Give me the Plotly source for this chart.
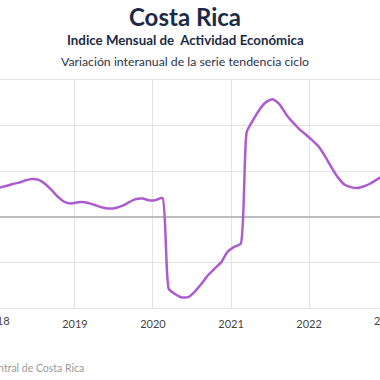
import plotly.graph_objects as go
import pandas as pd

# ---- data (monthly, plotted at mid-month) ----
months = [f"{y}-{m:02d}-15" for y in range(2018, 2023) for m in range(1, 13)]
values = [
    # 2018
    3.2, 3.4, 3.6, 3.75, 4.0, 4.15, 4.05, 3.6, 2.9, 2.15, 1.6, 1.45,
    # 2019
    1.6, 1.6, 1.45, 1.2, 1.0, 0.9, 1.0, 1.25, 1.65, 1.95, 2.0, 1.8,
    # 2020
    1.85, 2.05, -7.9, -8.5, -8.85, -8.8, -8.2, -7.35, -6.4, -5.7, -5.0, -3.85,
    # 2021
    -3.3, -2.95, 9.3, 10.65, 11.8, 12.6, 12.9, 12.35, 11.25, 10.4, 9.65, 9.05,
    # 2022
    8.4, 7.7, 6.7, 5.45, 4.35, 3.55, 3.25, 3.15, 3.35, 3.65, 4.1, 4.5,
]
year_ticks = ["2018-01-01", "2019-01-01", "2020-01-01", "2021-01-01", "2022-01-01", "2023-01-01"]
year_labels = ["2018", "2019", "2020", "2021", "2022", "2023"]
y_ticks = [-10, -5, 0, 5, 10, 15]

title = "Costa Rica"
subtitle = "Indice Mensual de  Actividad Económica"
subsub = "Variación interanual de la serie tendencia ciclo"
source = "Fuente: Banco Central de Costa Rica"

x_range = ["2018-01-15", "2022-11-29"]
y_range = [-10, 15]

W, H = 380, 380
M = dict(l=0, r=0, t=80, b=72)
FONT = "Lato, 'Open Sans', sans-serif"
NAVY = "#1c2b45"

fig = go.Figure()
fig.add_trace(go.Scatter(
    x=months, y=values, mode="lines",
    line=dict(color="#ad5ccf", width=2.5, shape="spline", smoothing=0.5),
    hoverinfo="x+y", showlegend=False,
))

fig.update_layout(
    width=W, height=H, margin=M,
    paper_bgcolor="white", plot_bgcolor="white",
    font=dict(family=FONT, color="#444"),
    xaxis=dict(
        type="date", range=x_range,
        tickvals=year_ticks, ticktext=year_labels,
        showgrid=True, gridcolor="#e3e3e3", gridwidth=1,
        showline=True, linecolor="#e3e3e3", linewidth=1, mirror=True,
        ticks="", tickfont=dict(size=11, color="#444", family=FONT),
        ticklabelstandoff=6,
        zeroline=False,
    ),
    yaxis=dict(
        range=y_range, tickvals=y_ticks, showticklabels=False,
        showgrid=True, gridcolor="#e3e3e3", gridwidth=1,
        zeroline=True, zerolinecolor="#bdbdbd", zerolinewidth=2,
        ticks="",
    ),
)

plot_h = H - M["t"] - M["b"]
def py(pix):
    """pixel row (from top) -> paper y"""
    return (H - M["b"] - pix) / plot_h

# edge year labels (partially clipped by the window, like the reference)
x0 = pd.Timestamp(x_range[0]); x1 = pd.Timestamp(x_range[1])
for d, lab in zip(year_ticks, year_labels):
    t = pd.Timestamp(d)
    if t < x0 or t > x1:
        xp = (t - x0) / (x1 - x0)
        fig.add_annotation(x=xp, y=py(320), xref="paper", yref="paper",
                           text=lab, showarrow=False, xanchor="center", yanchor="middle",
                           font=dict(size=11, color="#444", family=FONT))

cx = 185 / W
fig.add_annotation(x=cx, y=py(17), xref="paper", yref="paper", text=f"<b>{title}</b>",
                   showarrow=False, xanchor="center", yanchor="middle",
                   font=dict(size=24, color=NAVY, family=FONT))
fig.add_annotation(x=cx, y=py(40), xref="paper", yref="paper", text=f"<b>{subtitle}</b>",
                   showarrow=False, xanchor="center", yanchor="middle",
                   font=dict(size=13.3, color=NAVY, family=FONT))
fig.add_annotation(x=cx, y=py(61), xref="paper", yref="paper", text=subsub,
                   showarrow=False, xanchor="center", yanchor="middle",
                   font=dict(size=12.3, color="#2b3346", family=FONT))
fig.add_annotation(x=86 / W, y=py(368), xref="paper", yref="paper", text=source,
                   showarrow=False, xanchor="right", yanchor="middle",
                   font=dict(size=10.5, color="#9a9a9a", family=FONT))

fig.write_html("out.html", config={"displayModeBar": False},
               post_script="document.body.style.margin='0px';")
